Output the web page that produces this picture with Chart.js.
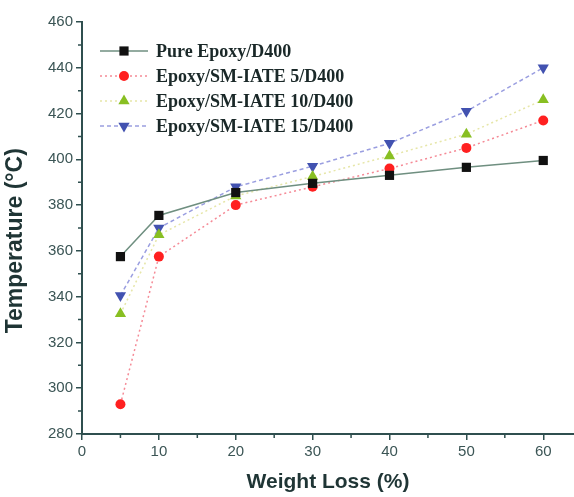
<!DOCTYPE html>
<html>
<head>
<meta charset="utf-8">
<script src="https://cdn.jsdelivr.net/npm/chart.js@4.4.0/dist/chart.umd.min.js"></script>
<style>
  html, body { margin: 0; padding: 0; background: #fff; }
</style>
</head>
<body>
<canvas id="chart" width="574" height="497"></canvas>
<script>
  // values
  const weightLoss = [5, 10, 20, 30, 40, 50, 60];
  const pureEpoxy = [357.5, 375.5, 385.5, 389.5, 393, 396.5, 399.5];
  const iate5 = [293, 357.5, 380, 388, 396, 405, 417];
  const iate10 = [332.5, 367, 384, 392.5, 401.5, 411, 426];
  const iate15 = [340.5, 370, 388, 397, 407, 421, 440];
  const seriesNames = ['Pure Epoxy/D400', 'Epoxy/SM-IATE 5/D400', 'Epoxy/SM-IATE 10/D400', 'Epoxy/SM-IATE 15/D400'];

  const axisColor = '#2f4f4f';
  const toPoints = (ys) => ys.map((y, i) => ({ x: weightLoss[i], y: y }));

  // Origin style minor ticks
  const minorTicks = {
    id: 'minorTicks',
    afterDraw(chart) {
      const ctx = chart.ctx;
      const xs = chart.scales.x, ys = chart.scales.y;
      ctx.save();
      ctx.strokeStyle = axisColor;
      ctx.lineWidth = 1.5;
      ctx.beginPath();
      for (let v = 5; v < 64; v += 10) {
        const px = xs.getPixelForValue(v);
        ctx.moveTo(px, xs.top);
        ctx.lineTo(px, xs.top + 4);
      }
      for (let v = 290; v < 460; v += 20) {
        const py = ys.getPixelForValue(v);
        ctx.moveTo(ys.right, py);
        ctx.lineTo(ys.right - 4, py);
      }
      ctx.stroke();
      ctx.restore();
    }
  };

  // legend drawn inside the plot, top left
  const insideLegend = {
    id: 'insideLegend',
    afterDraw(chart) {
      const ctx = chart.ctx;
      const x0 = 100, y0 = 51, rowH = 25;
      chart.data.datasets.forEach((ds, i) => {
        const y = y0 + i * rowH;
        ctx.save();
        ctx.strokeStyle = ds.borderColor;
        ctx.lineWidth = ds.borderWidth;
        ctx.setLineDash(ds.borderDash || []);
        ctx.beginPath();
        ctx.moveTo(x0, y);
        ctx.lineTo(x0 + 48, y);
        ctx.stroke();
        ctx.setLineDash([]);
        ctx.fillStyle = ds.pointBackgroundColor;
        Chart.helpers.drawPoint(ctx, {
          pointStyle: ds.pointStyle,
          rotation: ds.pointRotation || 0,
          radius: ds.pointRadius,
          borderWidth: 0
        }, x0 + 24, y);
        ctx.fillStyle = '#1a2828';
        ctx.font = 'bold 18px "Liberation Serif", "DejaVu Serif", serif';
        ctx.textBaseline = 'middle';
        ctx.fillText(ds.label, x0 + 56, y + 1);
        ctx.restore();
      });
    }
  };

  new Chart(document.getElementById('chart'), {
    type: 'line',
    data: {
      datasets: [
        {
          label: seriesNames[0],
          data: toPoints(pureEpoxy),
          borderColor: '#6f8f80',
          borderWidth: 1.5,
          pointStyle: 'rect',
          pointRadius: 6.5,
          pointBackgroundColor: '#111',
          pointBorderWidth: 0
        },
        {
          label: seriesNames[1],
          data: toPoints(iate5),
          borderColor: '#f58a96',
          borderWidth: 1.5,
          borderDash: [2, 3],
          pointStyle: 'circle',
          pointRadius: 5,
          pointBackgroundColor: '#ff2020',
          pointBorderWidth: 0
        },
        {
          label: seriesNames[2],
          data: toPoints(iate10),
          borderColor: '#e6e6a8',
          borderWidth: 1.5,
          borderDash: [2, 3],
          pointStyle: 'triangle',
          pointRadius: 6.5,
          pointBackgroundColor: '#88bf22',
          pointBorderWidth: 0
        },
        {
          label: seriesNames[3],
          data: toPoints(iate15),
          borderColor: '#9a9ee0',
          borderWidth: 1.5,
          borderDash: [4, 3],
          pointStyle: 'triangle',
          pointRotation: 180,
          pointRadius: 6.5,
          pointBackgroundColor: '#4252b0',
          pointBorderWidth: 0
        }
      ]
    },
    options: {
      responsive: false,
      animation: false,
      layout: { autoPadding: false, padding: { top: 22, right: 0, left: 0, bottom: 0 } },
      plugins: {
        legend: { display: false },
        tooltip: { enabled: false }
      },
      scales: {
        x: {
          type: 'linear',
          min: 0,
          max: 64,
          afterFit: (s) => { s.height = 63; s.paddingRight = 0; },
          ticks: {
            stepSize: 10,
            includeBounds: false,
            color: '#3b5555',
            padding: 3,
            font: { family: 'Liberation Sans, Arial, sans-serif', size: 15 }
          },
          grid: { display: true, drawOnChartArea: false, drawTicks: true, tickLength: 6, color: axisColor, lineWidth: 1.5 },
          border: { display: true, color: axisColor, width: 2 },
          title: {
            display: true,
            text: 'Weight Loss (%)',
            color: '#1f3535',
            font: { family: 'Liberation Sans, Arial, sans-serif', size: 21, weight: 'bold' },
            padding: { top: 4, bottom: 2 }
          }
        },
        y: {
          min: 280,
          max: 460,
          afterFit: (s) => { s.width = 82; },
          ticks: {
            stepSize: 20,
            color: '#3b5555',
            padding: 3,
            font: { family: 'Liberation Sans, Arial, sans-serif', size: 15 }
          },
          grid: { display: true, drawOnChartArea: false, drawTicks: true, tickLength: 6, color: axisColor, lineWidth: 1.5 },
          border: { display: true, color: axisColor, width: 2 },
          title: {
            display: true,
            text: 'Temperature (\u00B0C)\u00A0\u00A0\u00A0\u00A0',
            color: '#1f3535',
            font: { family: 'Liberation Sans, Arial, sans-serif', size: 23, weight: 'bold' },
            padding: { top: 2, bottom: 4 }
          }
        }
      }
    },
    plugins: [minorTicks, insideLegend]
  });
</script>
</body>
</html>
